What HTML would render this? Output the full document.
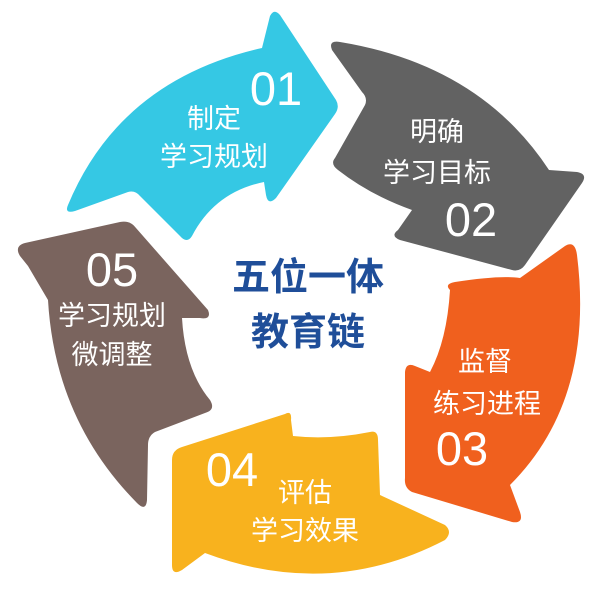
<!DOCTYPE html>
<html><head><meta charset="utf-8"><style>
html,body{margin:0;padding:0;background:#fff;}
svg{display:block;}
text{font-family:"Liberation Sans","Noto Sans CJK SC",sans-serif;fill:#fff;text-anchor:middle;}
.n{font-size:47px;}
.c{font-size:27px;}
.b{fill:#1f4e99;font-size:38px;font-weight:bold;}
</style></head><body>
<svg width="604" height="604" viewBox="0 0 604 604">
<path fill="#35c8e4" d="M68,205 Q120,80 262,48 L270,16 Q274,8 280,15 L336,100 Q340,107 335,114 L276,198 Q268,206 266,195 L264,182 Q215,192 192,236 Q187,244 180,236 L140,196 Q135,190 128,192 L75,211 Q64,214 68,205 Z"/>
<path fill="#626262" d="M332,50 Q328,40 340,42 Q480,65 549,170 L577,172 Q588,174 582,183 L525,265 Q520,272 512,270 L400,240 Q390,236 398,230 L412,210 Q370,195 338,170 Q330,164 335,158 L365,105 Q368,98 362,92 Z"/>
<path fill="#f0601e" d="M450,290 Q444,284 455,282 Q500,275 520,278 L565,246 Q575,240 577,255 Q595,400 510,485 L520,512 Q524,524 512,522 L412,492 Q404,488 405,478 L405,372 Q406,362 415,366 L430,372 Q447,340 450,290 Z"/>
<path fill="#f8b21e" d="M285,414 Q292,410 291,420 L293,436 Q330,440 370,432 Q378,430 378,440 L380,495 L445,525 Q453,532 445,540 Q330,600 205,553 L182,570 Q172,576 172,565 L172,460 Q172,450 182,447 Z"/>
<path fill="#7a645e" d="M20,256 Q14,246 25,243 L120,222 Q130,220 136,228 L208,310 Q212,320 200,318 L182,318 Q185,370 210,400 Q216,410 205,413 L155,432 Q148,436 148,445 L147,500 Q146,512 137,503 Q55,420 48,300 L28,266 Z"/>
<text class="n" x="276" y="105">01</text>
<text class="c" x="214" y="128">制定</text>
<text class="c" x="214" y="166">学习规划</text>
<text class="c" x="437" y="141">明确</text>
<text class="c" x="437" y="182">学习目标</text>
<text class="n" x="471" y="236">02</text>
<text class="c" x="485" y="371">监督</text>
<text class="c" x="487" y="413">练习进程</text>
<text class="n" x="462" y="465">03</text>
<text class="n" x="232" y="486">04</text>
<text class="c" x="305" y="502">评估</text>
<text class="c" x="305" y="540">学习效果</text>
<text class="n" x="112" y="286">05</text>
<text class="c" x="112" y="325">学习规划</text>
<text class="c" x="112" y="364">微调整</text>
<text class="b" x="308" y="290">五位一体</text>
<text class="b" x="308" y="345">教育链</text>
</svg>
</body></html>
